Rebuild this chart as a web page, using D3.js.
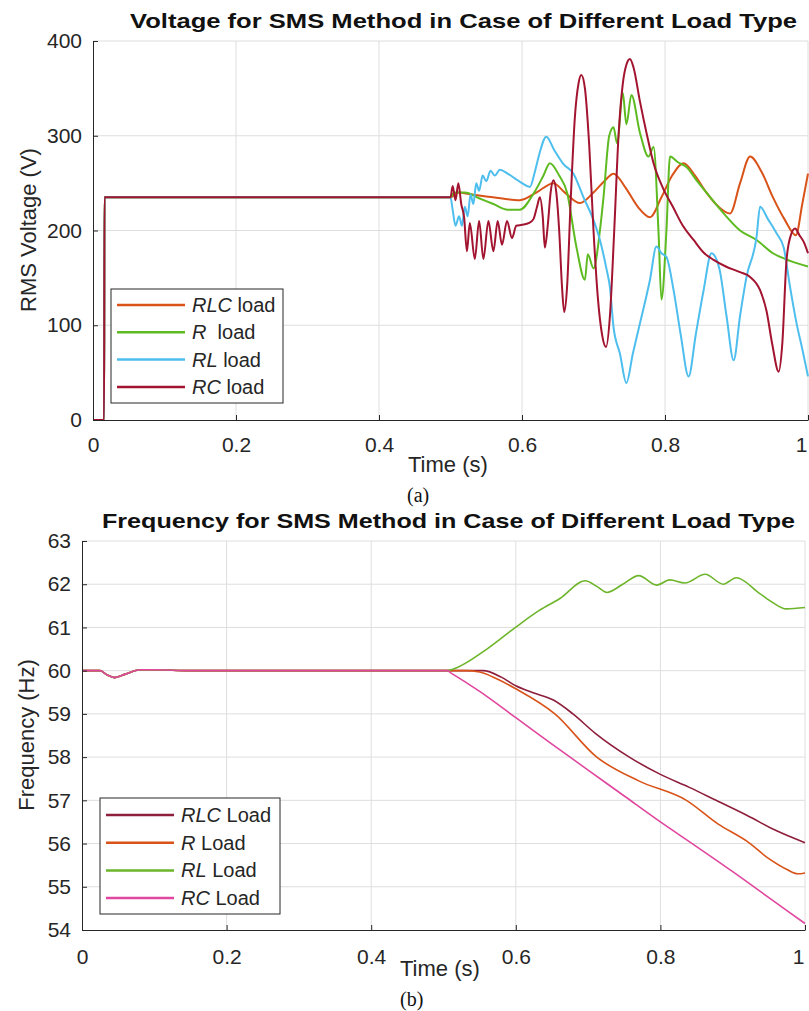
<!DOCTYPE html>
<html>
<head>
<meta charset="utf-8">
<script src="https://cdn.jsdelivr.net/npm/d3@7"></script>
<style>
  body { margin: 0; background: #fff; }
  svg { display: block; font-family: "Liberation Sans", Arial, sans-serif; }
  .tick text { fill: #262626; }
  text { white-space: pre; }
</style>
</head>
<body>
<svg id="chart" width="809" height="1011"></svg>
<script>
// ---- data ----
var voltTicks = [0, 100, 200, 300, 400];
var freqTicks = [54, 55, 56, 57, 58, 59, 60, 61, 62, 63];
var timeTicks = [0, 0.2, 0.4, 0.6, 0.8, 1];

var startUp = [[0, 0], [0.0155, 0], [0.016, 235], [0.5, 235]];

var voltRLC = startUp.concat([[0.51, 240], [0.53, 238], [0.55, 236], [0.57, 234], [0.597, 232],
  [0.62, 240], [0.644, 250], [0.66, 240], [0.681, 229], [0.70, 240], [0.715, 252], [0.728, 260],
  [0.745, 245], [0.762, 225], [0.779, 214], [0.795, 235], [0.81, 258], [0.826, 271], [0.842, 258],
  [0.858, 240], [0.875, 225], [0.891, 218], [0.905, 250], [0.919, 278], [0.935, 262], [0.951, 235],
  [0.967, 212], [0.983, 195], [0.992, 228], [1.0, 260]]);

var voltR = startUp.concat([[0.505, 240], [0.52, 240], [0.54, 234], [0.56, 228], [0.58, 222],
  [0.597, 222], [0.617, 240], [0.63, 258], [0.639, 271], [0.652, 258], [0.663, 240], [0.676, 183],
  [0.688, 148], [0.692, 175], [0.70, 160], [0.709, 200], [0.714, 235], [0.722, 300], [0.728, 309],
  [0.733, 292], [0.741, 345], [0.746, 312], [0.753, 343], [0.765, 303], [0.777, 278], [0.784, 288],
  [0.791, 197], [0.795, 127], [0.802, 200], [0.807, 278], [0.818, 272], [0.830, 267], [0.845, 252],
  [0.858, 240], [0.882, 218], [0.905, 200], [0.928, 190], [0.951, 176], [0.975, 168], [1.0, 162]]);

var voltRL = startUp.concat([[0.503, 222], [0.507, 205], [0.512, 215], [0.516, 205], [0.52, 225],
  [0.524, 215], [0.528, 238], [0.532, 228], [0.536, 250], [0.54, 242], [0.545, 258], [0.55, 252],
  [0.556, 263], [0.562, 258], [0.569, 264], [0.58, 260], [0.59, 255], [0.60, 250], [0.611, 246],
  [0.618, 262], [0.624, 280], [0.634, 299], [0.645, 285], [0.658, 270], [0.672, 260], [0.686, 235],
  [0.700, 211], [0.709, 190], [0.718, 160], [0.723, 140], [0.728, 98], [0.737, 70], [0.746, 39],
  [0.755, 70], [0.765, 102], [0.779, 148], [0.788, 183], [0.795, 176], [0.802, 172], [0.812, 137],
  [0.822, 90], [0.833, 46], [0.843, 90], [0.854, 137], [0.865, 176], [0.876, 160], [0.886, 110],
  [0.896, 63], [0.905, 110], [0.914, 151], [0.928, 193], [0.933, 225], [0.944, 212], [0.956, 197],
  [0.966, 182], [0.975, 140], [0.984, 102], [0.992, 75], [1.0, 46]]);

var voltRC = startUp.concat([[0.503, 247], [0.507, 232], [0.511, 250], [0.515, 228], [0.519, 214],
  [0.523, 178], [0.527, 208], [0.534, 170], [0.540, 210], [0.546, 170], [0.553, 210], [0.560, 178],
  [0.566, 210], [0.572, 185], [0.579, 210], [0.586, 192], [0.592, 205], [0.600, 206], [0.610, 208],
  [0.616, 212], [0.621, 225], [0.625, 235], [0.629, 215], [0.632, 182], [0.636, 205], [0.640, 240],
  [0.644, 253], [0.648, 240], [0.652, 200], [0.656, 140], [0.659, 114], [0.663, 140], [0.668, 230],
  [0.674, 320], [0.679, 355], [0.683, 364], [0.688, 350], [0.694, 290], [0.700, 200], [0.706, 130],
  [0.712, 90], [0.7175, 77], [0.723, 110], [0.729, 200], [0.735, 300], [0.741, 355], [0.746, 375],
  [0.751, 381], [0.756, 372], [0.765, 336], [0.775, 300], [0.784, 271], [0.797, 245], [0.811, 225],
  [0.825, 205], [0.840, 190], [0.855, 176], [0.868, 169], [0.885, 162], [0.905, 156], [0.919, 151],
  [0.933, 137], [0.942, 115], [0.950, 80], [0.959, 51], [0.964, 80], [0.970, 169], [0.976, 195],
  [0.982, 202], [0.988, 195], [0.994, 188], [1.0, 176]]);

var freqStart = [[0, 60], [0.025, 60], [0.035, 59.9], [0.045, 59.84], [0.06, 59.92], [0.08, 60.02],
  [0.1, 60.02], [0.15, 60], [0.5, 60]];

var freqRLC = freqStart.concat([[0.53, 60], [0.555, 60], [0.58, 59.85], [0.60, 59.65], [0.624, 59.49],
  [0.652, 59.32], [0.679, 59.0], [0.71, 58.55], [0.757, 58.0], [0.8, 57.6], [0.84, 57.3],
  [0.877, 57.0], [0.92, 56.65], [0.96, 56.3], [1.0, 56.02]]);

var freqR = freqStart.concat([[0.53, 60], [0.55, 59.97], [0.575, 59.8], [0.6, 59.58], [0.654, 59.0],
  [0.712, 58.0], [0.77, 57.45], [0.836, 57.0], [0.88, 56.45], [0.92, 56.05], [0.95, 55.65],
  [0.975, 55.4], [0.99, 55.3], [1.0, 55.32]]);

var freqRL = freqStart.concat([[0.505, 60], [0.514, 60.04], [0.56, 60.5], [0.601, 61.02], [0.633, 61.4],
  [0.661, 61.67], [0.696, 62.08], [0.712, 61.95], [0.726, 61.81], [0.748, 62.0], [0.770, 62.2],
  [0.795, 61.98], [0.813, 62.1], [0.834, 62.03], [0.862, 62.23], [0.887, 62.0], [0.905, 62.15],
  [0.937, 61.79], [0.955, 61.58], [0.974, 61.43], [1.0, 61.46]]);

var freqRC = freqStart.concat([[0.505, 60], [0.51, 59.95], [0.55, 59.52], [0.601, 58.9], [0.65, 58.3],
  [0.7, 57.7], [0.75, 57.1], [0.8, 56.5], [0.85, 55.93], [0.9, 55.35], [0.95, 54.75], [1.0, 54.15]]);

var voltSeries = [voltRLC, voltR, voltRL, voltRC];
var voltColors = ["#D95319", "#5DBB21", "#4DBEEE", "#A2142F"];
var voltNames = ["RLC", "R", "RL", "RC"];
var voltSuffix = [" load", "  load", " load", " load"];

var freqSeries = [freqRLC, freqR, freqRL, freqRC];
var freqColors = ["#8E1F3C", "#D95319", "#6DB52A", "#E0479E"];
var freqNames = ["RLC", "R", "RL", "RC"];
var freqSuffix = [" Load", " Load", " Load", " Load"];

var svg = d3.select("#chart");

function drawPanel(cfg) {
    var x = d3.scaleLinear().domain([0, 1]).range([cfg.left, cfg.right]);
    var y = d3.scaleLinear().domain(cfg.yDomain).range([cfg.bottom, cfg.top]);
    var g = svg.append("g");

    // grid
    g.selectAll(".vgrid").data(cfg.xTicks.slice(1)).enter().append("line")
        .attr("x1", d => x(d)).attr("x2", d => x(d))
        .attr("y1", cfg.top).attr("y2", cfg.bottom)
        .attr("stroke", "#dedede").attr("stroke-width", 1);
    g.selectAll(".hgrid").data(cfg.yTicks.slice(1)).enter().append("line")
        .attr("x1", cfg.left).attr("x2", cfg.right)
        .attr("y1", d => y(d)).attr("y2", d => y(d))
        .attr("stroke", "#dedede").attr("stroke-width", 1);

    var line = d3.line()
        .x(d => x(d[0]))
        .y(d => y(d[1]))
        .curve(d3.curveMonotoneX);

    cfg.series.forEach(function (s, i) {
        g.append("path")
            .attr("d", line(s))
            .attr("fill", "none")
            .attr("stroke", cfg.colors[i])
            .attr("stroke-width", cfg.lineWidth)
            .attr("stroke-linejoin", "round");
    });

    var xAxis = d3.axisBottom(x).tickValues(cfg.xTicks).tickSizeInner(-5).tickSizeOuter(0)
        .tickPadding(cfg.xPad).tickFormat(d3.format("~g"));
    var yAxis = d3.axisLeft(y).tickValues(cfg.yTicks).tickSizeInner(-5).tickSizeOuter(0)
        .tickPadding(11);

    var xg = g.append("g").attr("transform", "translate(0," + cfg.bottom + ")").call(xAxis);
    var yg = g.append("g").attr("transform", "translate(" + cfg.left + ",0)").call(yAxis);
    [xg, yg].forEach(function (a) {
        a.selectAll("text").style("font-size", "21px").style("font-family", "Liberation Sans, Arial, sans-serif");
        a.selectAll("path, line").attr("stroke", "#262626");
    });
    // last label sits on the window edge: keep it inside
    xg.selectAll(".tick text").filter(d => d === 1).attr("text-anchor", "end").attr("dx", "-1");

    // legend
    var lg = g.append("g");
    lg.append("rect")
        .attr("x", cfg.legend.x).attr("y", cfg.legend.y)
        .attr("width", cfg.legend.w).attr("height", cfg.legend.h)
        .attr("fill", "#fff").attr("stroke", "#262626").attr("stroke-width", 1);
    cfg.names.forEach(function (n, i) {
        var yy = cfg.legend.y0 + i * cfg.legend.step;
        lg.append("line")
            .attr("x1", cfg.legend.x + 6).attr("x2", cfg.legend.x + 74)
            .attr("y1", yy).attr("y2", yy)
            .attr("stroke", cfg.colors[i]).attr("stroke-width", 2.5);
        var t = lg.append("text")
            .attr("x", cfg.legend.x + 81).attr("y", yy + 7)
            .attr("font-size", 20).attr("fill", "#262626");
        t.append("tspan").attr("font-style", "italic").text(n);
        t.append("tspan").text(cfg.suffix[i]);
    });

    // title and labels
    g.append("text")
        .attr("x", cfg.title.x).attr("y", cfg.title.y)
        .attr("font-size", 21).attr("font-weight", "bold").attr("fill", "#111")
        .attr("textLength", cfg.title.len).attr("lengthAdjust", "spacingAndGlyphs")
        .text(cfg.title.text);
    g.append("text")
        .attr("x", cfg.xLabel.x).attr("y", cfg.xLabel.y)
        .attr("font-size", 22).attr("fill", "#262626")
        .text("Time (s)");
    g.append("text")
        .attr("transform", "translate(" + cfg.yLabel.x + "," + cfg.yLabel.y + ") rotate(-90)")
        .attr("text-anchor", "middle")
        .attr("font-size", 22).attr("fill", "#262626")
        .text(cfg.yLabel.text);
    g.append("text")
        .attr("x", cfg.caption.x).attr("y", cfg.caption.y)
        .attr("font-size", 20).attr("fill", "#111")
        .style("font-family", "Liberation Serif, Times New Roman, serif")
        .text(cfg.caption.text);
}

drawPanel({
    left: 93, right: 808, top: 41, bottom: 420,
    yDomain: [0, 400], yTicks: voltTicks, xTicks: timeTicks, xPad: 17,
    series: voltSeries, colors: voltColors, names: voltNames, suffix: voltSuffix,
    lineWidth: 2,
    legend: { x: 111, y: 289, w: 172, h: 114, y0: 305, step: 27.3 },
    title: { x: 130, y: 28, len: 667, text: "Voltage for SMS Method in Case of Different Load Type" },
    xLabel: { x: 408, y: 472 },
    yLabel: { x: 36, y: 230, text: "RMS Voltage (V)" },
    caption: { x: 407, y: 502, text: "(a)" }
});

drawPanel({
    left: 82, right: 805, top: 541, bottom: 930,
    yDomain: [54, 63], yTicks: freqTicks, xTicks: timeTicks, xPad: 19,
    series: freqSeries, colors: freqColors, names: freqNames, suffix: freqSuffix,
    lineWidth: 1.6,
    legend: { x: 100, y: 798, w: 180, h: 116, y0: 815, step: 27.7 },
    title: { x: 102, y: 528, len: 693, text: "Frequency for SMS Method in Case of Different Load Type" },
    xLabel: { x: 400, y: 976 },
    yLabel: { x: 34, y: 735, text: "Frequency (Hz)" },
    caption: { x: 400, y: 1006, text: "(b)" }
});
</script>
</body>
</html>
